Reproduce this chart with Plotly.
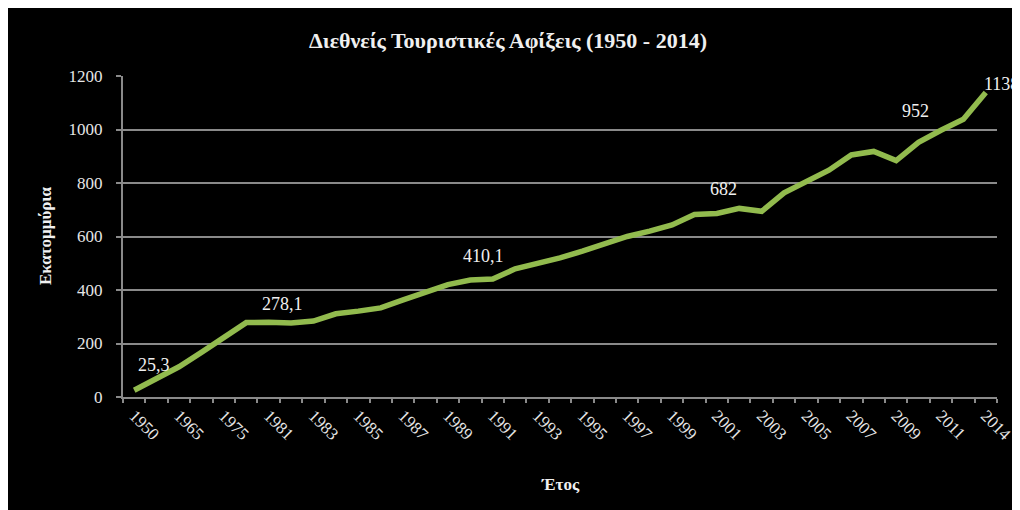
import plotly.graph_objects as go

# ---- data ----
categories = ["1950", "1960", "1965", "1970", "1975", "1980",
              "1981", "1982", "1983", "1984", "1985", "1986", "1987", "1988", "1989", "1990",
              "1991", "1992", "1993", "1994", "1995", "1996", "1997", "1998", "1999", "2000",
              "2001", "2002", "2003", "2004", "2005", "2006", "2007", "2008", "2009", "2010",
              "2011", "2012", "2014"]
arrivals = [25.3, 69, 113, 167, 224, 278.1,
            279, 277, 284, 311, 321, 333, 363, 393, 420, 437,
            441, 479, 497, 520, 545, 574, 600, 620, 643, 682,
            686, 705, 694, 763, 805, 848, 905, 918, 884, 952,
            997, 1038, 1138]
shown_labels = ["1950", "1965", "1975", "1981", "1983", "1985", "1987", "1989", "1991",
                "1993", "1995", "1997", "1999", "2001", "2003", "2005", "2007", "2009",
                "2011", "2014"]
label_years = ["1950", "1980", "1990", "2000", "2010", "2014"]
label_texts = ["25,3", "278,1", "410,1", "682", "952", "1138"]
y_ticks = [0, 200, 400, 600, 800, 1000, 1200]

# ---- styles ----
label_shift = [(20, 25), (36, 19), (13, 24), (29, 26), (-3, 31), (16, 9)]
W, H = 1012, 502
ML, MR, MT, MB = 115, 23, 68, 113
PW, PH = W - ML - MR, H - MT - MB
GRID = "#8a8a8a"
SERIF = "Liberation Serif, Times New Roman, serif"
TXT = "#f0f0f0"

fig = go.Figure()
fig.add_trace(go.Scatter(
    x=categories, y=arrivals, mode="lines",
    line=dict(color="#92bb4e", width=5.5),
    hoverinfo="x+y", showlegend=False,
))

ticktext = [c if c in shown_labels else "" for c in categories]

annotations = []
for yr, txt, (dx, dy) in zip(label_years, label_texts, label_shift):
    idx = categories.index(yr)
    annotations.append(dict(
        x=idx, y=arrivals[idx], xref="x", yref="y",
        text=txt, showarrow=False, xanchor="center", yanchor="middle",
        xshift=dx, yshift=dy,
        font=dict(family=SERIF, size=18, color=TXT),
    ))
# axis titles (figure pixel positions)
annotations.append(dict(
    x=(552 - ML) / PW, y=(H - MB - 476) / PH, xref="paper", yref="paper",
    text="<b>Έτος</b>", showarrow=False, xanchor="center", yanchor="middle",
    font=dict(family=SERIF, size=17, color=TXT),
))
annotations.append(dict(
    x=(37 - ML) / PW, y=(H - MB - 228) / PH, xref="paper", yref="paper",
    text="<b>Εκατομμύρια</b>", showarrow=False, xanchor="center", yanchor="middle",
    textangle=-90,
    font=dict(family=SERIF, size=17, color=TXT),
))

fig.update_layout(
    width=W, height=H,
    margin=dict(l=ML, r=MR, t=MT, b=MB, autoexpand=False),
    paper_bgcolor="black", plot_bgcolor="black",
    title=dict(text="<b>Διεθνείς Τουριστικές Αφίξεις (1950 - 2014)</b>",
               x=500 / W, xref="container", xanchor="center",
               y=1 - 32 / H, yref="container", yanchor="middle",
               font=dict(family=SERIF, size=22, color=TXT)),
    xaxis=dict(
        type="category", categoryorder="array", categoryarray=categories,
        range=[-0.5, len(categories) - 0.5], automargin=False,
        tickmode="array", tickvals=categories, ticktext=ticktext,
        tickson="boundaries", ticks="outside", ticklen=4, tickcolor=GRID, tickwidth=1.5,
        tickangle=45, showgrid=False, showline=True, linecolor=GRID, linewidth=2,
        tickfont=dict(family=SERIF, size=17, color="#e6e6e6"),
        zeroline=False, fixedrange=True,
    ),
    yaxis=dict(
        range=[0, 1200], tickmode="array", tickvals=y_ticks, automargin=False,
        showgrid=True, gridcolor=GRID, gridwidth=2,
        showline=True, linecolor=GRID, linewidth=2,
        ticks="outside", ticklen=5, tickcolor=GRID, tickwidth=1.5,
        ticklabelstandoff=10,
        tickfont=dict(family=SERIF, size=17, color="#e6e6e6"),
        zeroline=False, fixedrange=True,
    ),
    annotations=annotations,
)

fig.write_html("out.html")
